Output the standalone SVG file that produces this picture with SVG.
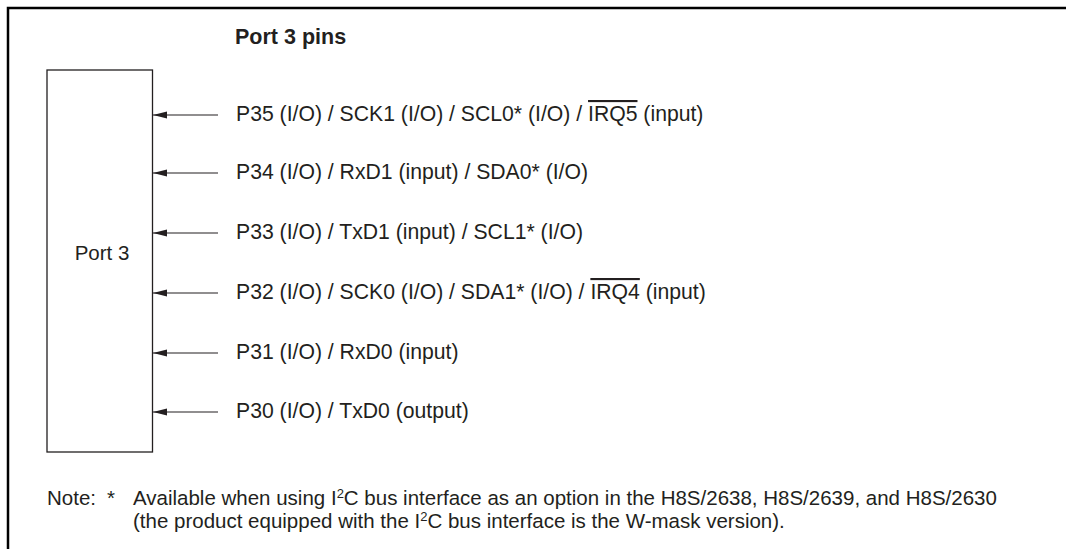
<svg xmlns="http://www.w3.org/2000/svg" width="1066" height="549" viewBox="0 0 1066 549">
<style>
text{font-family:"Liberation Sans",Arial,sans-serif;font-size:20.5px;fill:#231f20}
.r{font-size:21.2px}
.t{font-weight:bold;font-size:21.5px}
.c{stroke:#231f20;stroke-width:1.2;fill:none}
.o{text-decoration:overline}
</style>
<defs>
<marker id="ah" markerWidth="15" markerHeight="8" refX="14" refY="4" orient="auto" markerUnits="userSpaceOnUse">
<path d="M0,0.6 L14,4 L0,7.4 Z" fill="#231f20"/>
</marker>
</defs>
<rect width="1066" height="549" fill="#fff"/>
<path d="M8,549 V8 H1066" stroke="#000" stroke-width="2.5" fill="none"/>
<text class="t" x="235" y="44">Port 3 pins</text>
<g id="port3">
<rect x="47" y="70" width="105.5" height="382" fill="#fff" stroke="#231f20" stroke-width="1.3"/>
<text x="102" y="260" text-anchor="middle">Port 3</text>
</g>
<g id="connectors">
<line class="c" x1="218" y1="115" x2="153" y2="115" marker-end="url(#ah)"/>
<line class="c" x1="218" y1="173" x2="153" y2="173" marker-end="url(#ah)"/>
<line class="c" x1="218" y1="233" x2="153" y2="233" marker-end="url(#ah)"/>
<line class="c" x1="218" y1="293" x2="153" y2="293" marker-end="url(#ah)"/>
<line class="c" x1="218" y1="353" x2="153" y2="353" marker-end="url(#ah)"/>
<line class="c" x1="218" y1="412" x2="153" y2="412" marker-end="url(#ah)"/>
</g>
<g id="p35"><text class="r" x="236" y="121">P35 (I/O) / SCK1 (I/O) / SCL0* (I/O) / <tspan class="o">IRQ5</tspan> (input)</text></g>
<g id="p34"><text class="r" x="236" y="179">P34 (I/O) / RxD1 (input) / SDA0* (I/O)</text></g>
<g id="p33"><text class="r" x="236" y="239">P33 (I/O) / TxD1 (input) / SCL1* (I/O)</text></g>
<g id="p32"><text class="r" x="236" y="299">P32 (I/O) / SCK0 (I/O) / SDA1* (I/O) / <tspan class="o">IRQ4</tspan> (input)</text></g>
<g id="p31"><text class="r" x="236" y="359">P31 (I/O) / RxD0 (input)</text></g>
<g id="p30"><text class="r" x="236" y="418">P30 (I/O) / TxD0 (output)</text></g>
<g id="note">
<text x="47" y="505">Note:</text>
<text x="107" y="505">*</text>
<text x="133" y="505">Available when using I<tspan font-size="13" dy="-7">2</tspan><tspan dy="7">C bus interface as an option in the H8S/2638, H8S/2639, and H8S/2630</tspan></text>
<text x="133" y="528">(the product equipped with the I<tspan font-size="13" dy="-7">2</tspan><tspan dy="7">C bus interface is the W-mask version).</tspan></text>
</g>
</svg>
